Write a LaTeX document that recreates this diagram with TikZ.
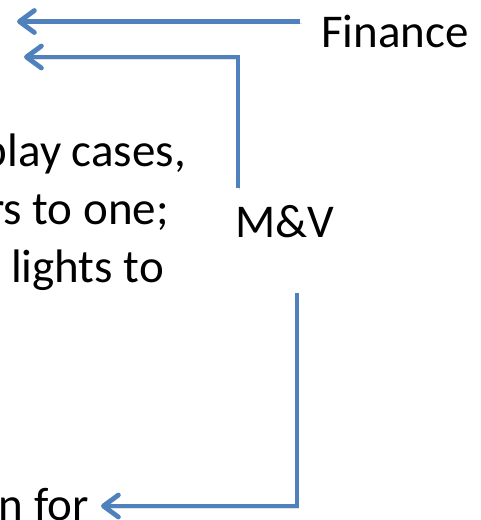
\documentclass[tikz,border=0pt]{standalone}
\usepackage{fontspec}
\setmainfont{Carlito}
\usetikzlibrary{arrows.meta}
\definecolor{LinkBlue}{HTML}{4F81BD}
\tikzset{
  slide text/.style={font=\fontsize{47}{56}\selectfont,inner sep=0pt,text=black},
  link/.style={draw=LinkBlue,line width=4.8pt,
    -{Straight Barb[length=15pt,width=22pt,round]},
    preaction={draw=black,opacity=0.12,transform canvas={shift={(1.5pt,-2pt)}}}}
}

\begin{document}
\begin{tikzpicture}[x=1pt,y=-1pt]
  \useasboundingbox (0,0) rectangle (481,520);
  \clip (0,0) rectangle (481,520);

  \node[slide text,anchor=base west] (fin) at (321,47) {Finance};
  \node[slide text,anchor=base west] (mv) at (235,237) {M\&V};
  \node[slide text,anchor=base east] (cases) at (186,166) {play cases,};
  \node[slide text,anchor=base east] (one) at (169,224) {rs to one;};
  \node[slide text,anchor=base east] (lights) at (164,282) {lights to};
  \node[slide text,anchor=base east] (for) at (89,520) {n for};

  \coordinate (finOut) at (300,21.5);
  \coordinate (finTip) at (17,21.5);
  \coordinate (mvUp) at (238,188);
  \coordinate (mvTip) at (24,57);
  \coordinate (mvDown) at (297,293);
  \coordinate (forTip) at (101,506);

  \draw[link] (finOut) -- (finTip);
  \draw[link] (mvUp) |- (mvTip);
  \draw[link] (mvDown) |- (forTip);
\end{tikzpicture}
\end{document}
